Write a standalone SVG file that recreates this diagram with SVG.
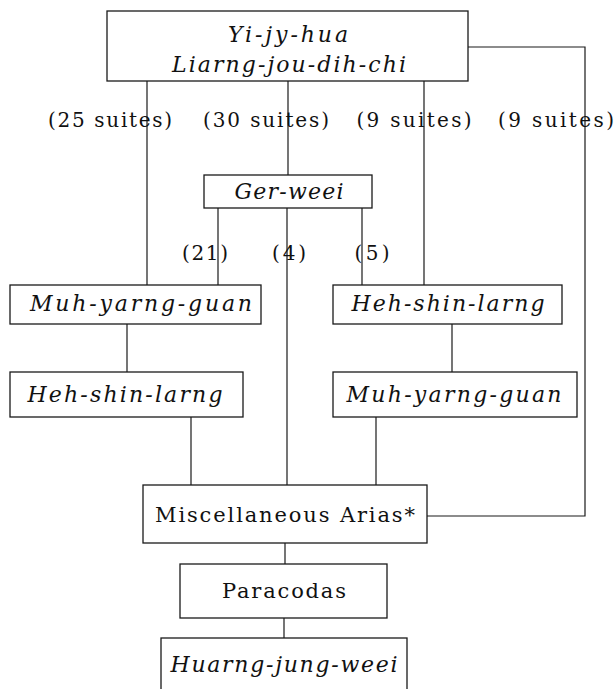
<svg xmlns="http://www.w3.org/2000/svg" width="616" height="689" viewBox="0 0 616 689">
  <style>
    .box { fill: #ffffff; stroke: #1a1a1a; stroke-width: 1.3; }
    .wire { fill: none; stroke: #1a1a1a; stroke-width: 1.2; }
    .it { font-family: "DejaVu Serif", "Liberation Serif", serif; font-style: italic; font-size: 22px; fill: #111; text-anchor: middle; }
    .up { font-family: "DejaVu Serif", "Liberation Serif", serif; font-size: 21px; fill: #111; text-anchor: middle; }
    .lbl { font-family: "DejaVu Serif", "Liberation Serif", serif; font-size: 20px; fill: #111; text-anchor: middle; }
  </style>
  <rect width="616" height="689" fill="#ffffff"/>

  <!-- connectors -->
  <g id="connectors" class="wire">
    <line x1="147" y1="81" x2="147" y2="285"/>
    <line x1="288" y1="81" x2="288" y2="175"/>
    <line x1="424" y1="81" x2="424" y2="285"/>
    <polyline points="468,47 585,47 585,516 427,516"/>
    <line x1="218" y1="208" x2="218" y2="285"/>
    <line x1="287" y1="208" x2="287" y2="485"/>
    <line x1="362" y1="208" x2="362" y2="285"/>
    <line x1="127" y1="324" x2="127" y2="372"/>
    <line x1="452" y1="324" x2="452" y2="372"/>
    <line x1="191" y1="417" x2="191" y2="485"/>
    <line x1="376" y1="417" x2="376" y2="485"/>
    <line x1="285" y1="543" x2="285" y2="564"/>
    <line x1="284" y1="618" x2="284" y2="638"/>
  </g>

  <!-- edge labels -->
  <g id="edge-labels">
    <text class="lbl" x="110" y="127" textLength="124" lengthAdjust="spacing">(25 suites)</text>
    <text class="lbl" x="266" y="127" textLength="126" lengthAdjust="spacing">(30 suites)</text>
    <text class="lbl" x="414" y="127" textLength="115" lengthAdjust="spacing">(9 suites)</text>
    <text class="lbl" x="556" y="127" textLength="116" lengthAdjust="spacing">(9 suites)</text>
    <text class="lbl" x="205" y="260" textLength="46" lengthAdjust="spacing">(21)</text>
    <text class="lbl" x="289" y="260" textLength="34" lengthAdjust="spacing">(4)</text>
    <text class="lbl" x="372" y="260" textLength="35" lengthAdjust="spacing">(5)</text>
  </g>

  <g id="yi-jy-hua">
    <rect class="box" x="107" y="11" width="361" height="70"/>
    <text class="it" x="288" y="42" textLength="120" lengthAdjust="spacing">Yi-jy-hua</text>
    <text class="it" x="289" y="72" textLength="234" lengthAdjust="spacing">Liarng-jou-dih-chi</text>
  </g>

  <g id="ger-weei">
    <rect class="box" x="204" y="175" width="168" height="33"/>
    <text class="it" x="289" y="199" textLength="109" lengthAdjust="spacing">Ger-weei</text>
  </g>

  <g id="muh-yarng-guan-left">
    <rect class="box" x="10" y="285" width="251" height="39"/>
    <text class="it" x="141" y="311" textLength="222" lengthAdjust="spacing">Muh-yarng-guan</text>
  </g>

  <g id="heh-shin-larng-right">
    <rect class="box" x="333" y="285" width="229" height="39"/>
    <text class="it" x="448" y="311" textLength="193" lengthAdjust="spacing">Heh-shin-larng</text>
  </g>

  <g id="heh-shin-larng-left">
    <rect class="box" x="10" y="372" width="233" height="45"/>
    <text class="it" x="125" y="402" textLength="195" lengthAdjust="spacing">Heh-shin-larng</text>
  </g>

  <g id="muh-yarng-guan-right">
    <rect class="box" x="333" y="372" width="244" height="45"/>
    <text class="it" x="454" y="402" textLength="215" lengthAdjust="spacing">Muh-yarng-guan</text>
  </g>

  <g id="miscellaneous-arias">
    <rect class="box" x="143" y="485" width="284" height="58"/>
    <text class="up" x="285" y="522" textLength="260" lengthAdjust="spacing">Miscellaneous Arias*</text>
  </g>

  <g id="paracodas">
    <rect class="box" x="180" y="564" width="207" height="54"/>
    <text class="up" x="284" y="598" textLength="124" lengthAdjust="spacing">Paracodas</text>
  </g>

  <g id="huarng-jung-weei">
    <rect class="box" x="161" y="638" width="246" height="70"/>
    <text class="it" x="284" y="672" textLength="227" lengthAdjust="spacing">Huarng-jung-weei</text>
  </g>
</svg>
